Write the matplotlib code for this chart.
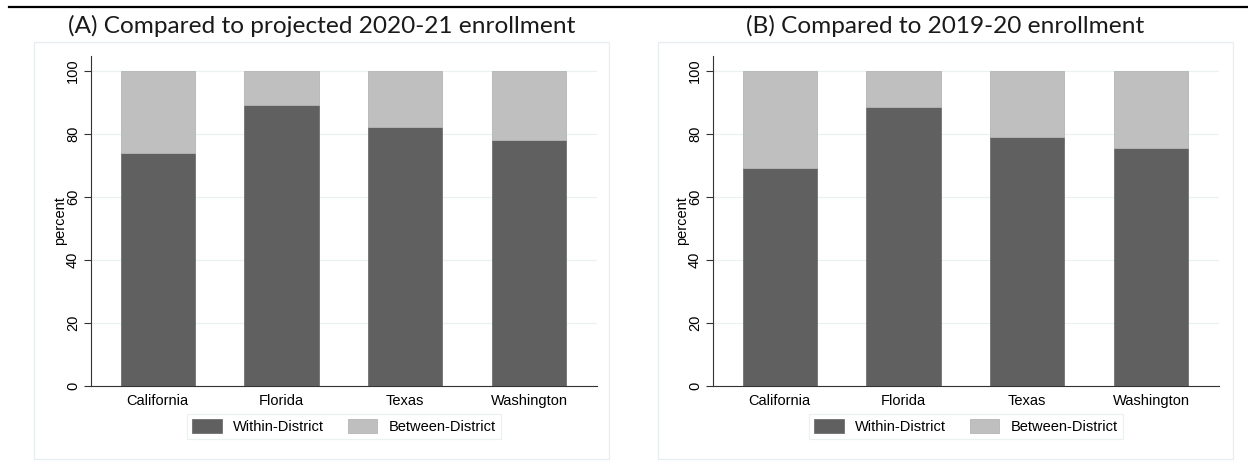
import matplotlib.pyplot as plt
from matplotlib.patches import Patch, Rectangle
from matplotlib.lines import Line2D

states = ["California", "Florida", "Texas", "Washington"]
within_a = [74, 89, 82, 78]
between_a = [26, 11, 18, 22]
within_b = [69, 88.5, 79, 75.5]
between_b = [31, 11.5, 21, 24.5]
titles = ["(A) Compared to projected 2020-21 enrollment",
          "(B) Compared to 2019-20 enrollment"]
yticks = [0, 20, 40, 60, 80, 100]

DARK = "#606060"
LIGHT = "#bfbfbf"
GRID = "#eaf1f3"
W, H = 1248, 463

plt.rcParams["font.family"] = ["Liberation Sans", "DejaVu Sans"]

fig = plt.figure(figsize=(W / 100, H / 100), dpi=100)


def fx(px):
    return px / W


def fy(py):
    return 1 - py / H


# top rule
fig.add_artist(Line2D([fx(9), fx(1248)], [fy(6.5), fy(6.5)], color="black", lw=1.6))

panels = [
    (91, 34, 609, titles[0], within_a, between_a),
    (713, 658, 1233, titles[1], within_b, between_b),
]

for ax_left, box_l, box_r, title, within, between in panels:
    # panel frame
    fig.add_artist(Rectangle((fx(box_l), fy(459)), fx(box_r - box_l), (459 - 42) / H,
                             fill=False, edgecolor="#e6eef0", lw=0.9))
    fig.text(fx((box_l + box_r) / 2), fy(26), title, ha="center", va="center",
             fontsize=17.6, family=["Lato", "DejaVu Sans"], color="#1a1a1a")

    ax = fig.add_axes([fx(ax_left), fy(385.7), fx(506), (385.7 - 56) / H])
    x = list(range(len(states)))
    ax.bar(x, within, width=0.6, color=DARK, edgecolor="#707070", lw=0.6,
           label="Within-District", zorder=3)
    ax.bar(x, between, width=0.6, bottom=within, color=LIGHT, edgecolor="#b5b5b5",
           lw=0.6, label="Between-District", zorder=3)
    ax.set_xlim(-0.54, 3.55)
    ax.set_ylim(0, 104.7)
    ax.set_yticks(yticks)
    ax.set_yticklabels([str(t) for t in yticks], rotation=90, va="center", fontsize=10.5)
    ax.set_xticks(x)
    ax.set_xticklabels(states, fontsize=10.5)
    ax.tick_params(axis="x", length=0, pad=6)
    ax.tick_params(axis="y", length=5, width=0.8, color="#333333", pad=3)
    ax.yaxis.grid(True, color=GRID, lw=0.9, zorder=0)
    ax.set_axisbelow(True)
    for side in ["top", "right"]:
        ax.spines[side].set_visible(False)
    ax.spines["left"].set_color("#333333")
    ax.spines["bottom"].set_color("#333333")
    ax.spines["left"].set_linewidth(0.8)
    ax.spines["bottom"].set_linewidth(0.8)
    ax.set_ylabel("percent", fontsize=10.5, labelpad=-1)

    handles = [Patch(facecolor=DARK, edgecolor="#707070", lw=0.6),
               Patch(facecolor=LIGHT, edgecolor="#b5b5b5", lw=0.6)]
    leg = ax.legend(handles, ["Within-District", "Between-District"], ncol=2,
                    loc="center", bbox_to_anchor=(0.5, -0.125), frameon=True,
                    fancybox=False, fontsize=10.5, handlelength=2.0, handleheight=1.1,
                    columnspacing=1.6, handletextpad=0.8, borderpad=0.35)
    leg.get_frame().set_edgecolor("#e6eef0")
    leg.get_frame().set_linewidth(0.9)

fig.savefig("out.png", dpi=100)
